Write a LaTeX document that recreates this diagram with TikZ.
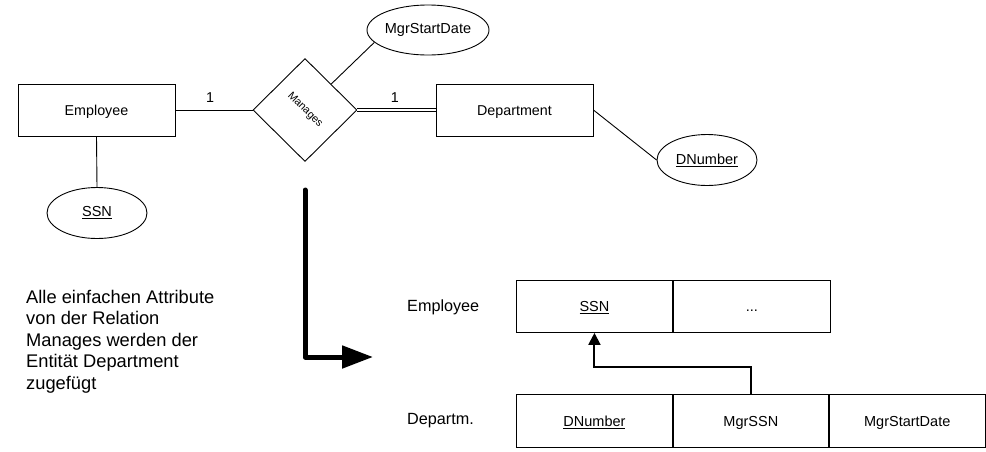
\documentclass[tikz,border=0pt]{standalone}
\usepackage{fontspec}
\setmainfont{Liberation Sans}
\usetikzlibrary{shapes.geometric,arrows.meta}
\begin{document}
\begin{tikzpicture}[x=1pt,y=-1pt,
  thinline/.style={line width=0.9pt},
  entity/.style={draw,thinline,rectangle,minimum width=157pt,minimum height=52pt,inner sep=0pt,font=\fontsize{14.3}{17}\selectfont,text height=10.2pt,text depth=0pt},
  attr/.style={draw,thinline,ellipse,minimum width=100pt,minimum height=51pt,inner sep=0pt,font=\fontsize{14.5}{17}\selectfont},
  rel/.style={draw,thinline,diamond,minimum width=104pt,minimum height=103pt,inner sep=0pt},
  cell/.style={draw,thinline,rectangle,minimum width=156pt,inner sep=0pt,anchor=north west,font=\fontsize{14.5}{17}\selectfont,text height=10.4pt,text depth=0pt},
  card/.style={font=\fontsize{14.3}{17}\selectfont,above=4pt},
  side/.style={anchor=base west,inner sep=0pt,font=\fontsize{16.2}{19}\selectfont},
  bigarrow/.style={line width=5pt,line cap=round,line join=round,-{Triangle[length=31pt,width=22pt]}},
  fkarrow/.style={line width=2pt,-{Triangle[length=12pt,width=12pt]}}
]
\useasboundingbox (0,0) rectangle (986,451);

% ER diagram
\node[entity] (emp) at (96.5,110) {Employee};
\node[entity] (dep) at (514.5,110) {Department};
\node[rel] (dia) at (305,110) {};
\node[rotate=-45,font=\fontsize{10.8}{12}\selectfont] (mlab) at (dia.center) {Manages};
\node[attr] (ssn) at (97,213) {\underline{SSN}};
\node[attr,minimum width=122pt,minimum height=50pt] (msd) at (428,30) {MgrStartDate};
\node[attr] (dnum) at (707,160) {\underline{DNumber}};

\draw[thinline] (emp.east) -- node[card,pos=0.45] (c1) {1} (dia.west);
\draw[thinline,double,double distance=2.2pt] (dia.east) -- node[card,pos=0.48] (c2) {1} (dep.west);
\draw[thinline] (emp.south) -- (ssn.north);
\draw[thinline] (msd.193) -- (dia.north east);
\draw[thinline] (dep.east) -- (dnum.west);

% transformation arrow
\coordinate (bigA) at (305,190);
\coordinate (bigB) at (373,357);
\draw[bigarrow] (bigA) |- (bigB);

% note
\node[anchor=north west,inner sep=0pt,align=left,font=\fontsize{18.3}{21.5}\selectfont] (note) at (26,290)
  {Alle einfachen Attribute\\von der Relation\\Manages werden der\\Entität Department\\zugefügt};

% relational tables
\node[side] (lblE) at (407,311) {Employee};
\node[side] (lblD) at (407,424) {Departm.};

\node[cell,minimum height=52pt] (e1) at (516,280) {\underline{SSN}};
\node[cell,minimum height=52pt,minimum width=157pt] (e2) at (e1.north east) {...};

\node[cell,minimum height=53pt] (d1) at (516,394) {\underline{DNumber}};
\node[cell,minimum height=53pt,minimum width=155pt] (d2) at (d1.north east) {MgrSSN};
\node[cell,minimum height=53pt] (d3) at (d2.north east) {MgrStartDate};

\draw[fkarrow] (d2.north) -- ++(0,-27) -| (e1.south);
\end{tikzpicture}
\end{document}
